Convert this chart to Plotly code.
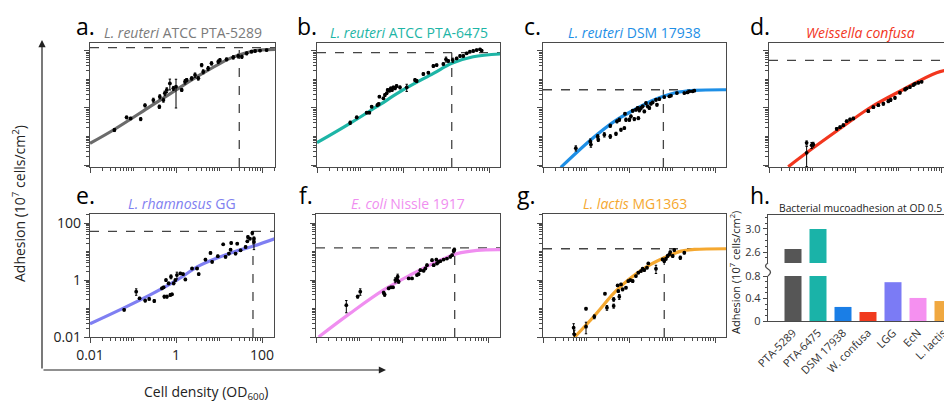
import plotly.graph_objects as go

W, H = 952, 407
FONT = "Open Sans"
OFF = 8  # page body margin offset (px) compensated in placement

# ---------------- data ----------------
a_x = [0.037,0.071,0.088,0.151,0.19,0.297,0.41,0.42,0.51,0.55,0.61,0.72,0.87,1.0,1.36,1.62,1.77,2.31,2.77,3.3,3.95,4.3,5.6,6.7,9.6,10.5,15,21.5,28,34,44,57,69,90,128]
a_y = [0.169,0.47,0.43,0.41,1.24,1.9,1.11,2.5,1.9,3.3,4.3,7.3,4.9,5.6,4.3,8.4,9.6,11,14.4,11,32,18.8,24.6,37,42,48,51,60,67,63,83,95,100,103,108]
a_err = [0.02,0.05,0.04,0.05,0.15,0.3,0.15,0.4,0.3,0.6,0.8,3.0,0.8,4.6,0.5,1.5,1.2,1.5,2.5,1.5,4,3,4,5,6,6,6,8,10,8,10,10,8,8,8]
a_cx = [0.01,0.035,0.248,1,3.6,18,29.7,63,200]
a_cy = [0.0575,0.169,1.11,4.28,14.4,55,72,100,114]

b_x = [0.059,0.084,0.143,0.165,0.187,0.253,0.272,0.282,0.35,0.38,0.417,0.44,0.48,0.52,0.556,0.597,0.652,0.71,0.85,1.22,1.9,2.08,2.97,3.88,5.08,6.07,8.67,10,11.3,14.3,17.7,21.2,25.3,30.3,36,43,51.6,61.8,67.6]
b_y = [0.305,0.47,0.685,0.685,1.11,1.27,1.38,2.5,2.18,2.86,3.27,4.28,4.05,4.9,4.28,5.3,4.9,5.9,5.3,5.3,9.6,8.85,15.6,17.3,29.7,32,35,51,44.6,48,55,66.7,66.7,82.8,94.6,100,108,114,103]
b_err = [0.04,0.05,0.06,0.06,0.1,0.12,0.12,0.2,0.2,0.3,0.3,0.4,0.4,0.5,0.4,0.5,0.5,0.6,0.6,1.5,1,1,1.5,1.5,3,3,3,10,4,8,5,6,6,7,8,8,9,9,9]
b_cx = [0.01,0.0586,0.244,1,5.1,13.6,43,200]
b_cy = [0.0607,0.29,1.11,4.28,16.4,36.9,63,79]

c_x = [0.058,0.126,0.13,0.187,0.193,0.267,0.367,0.367,0.498,0.525,0.595,0.65,0.78,0.806,0.85,1.02,1.11,1.22,1.33,1.45,1.59,1.65,1.74,1.9,2.08,2.27,2.48,2.72,2.97,3.24,3.55,4.24,4.47,5.07,6.6,8.65,9.46,13,19.3,23,25.3,30.2,33]
c_y = [0.039,0.067,0.052,0.101,0.077,0.116,0.239,0.101,0.125,0.34,0.39,0.173,0.198,0.63,0.39,0.39,0.51,0.8,0.41,0.87,1.0,0.44,0.83,1.0,1.14,0.76,1.49,1.14,1.0,1.42,1.57,1.95,1.3,2.06,2.42,2.56,2.7,3.35,3.35,3.53,3.83,3.83,4.05]
c_err = [0.008,0.015,0.01,0.015,0.01,0.02,0.03,0.015,0.015,0.04,0.05,0.02,0.02,0.06,0.05,0.05,0.06,0.08,0.05,0.09,0.1,0.05,0.1,0.1,0.12,0.08,0.15,0.12,0.1,0.15,0.15,0.2,0.13,0.2,0.2,0.2,0.2,0.25,0.25,0.3,0.3,0.3,0.3]
c_cx = [0.026,0.13,0.457,1.59,3.9,11.3,33,200]
c_cy = [0.0083,0.077,0.34,1,1.96,3.36,4.15,4.37]

d_x = [0.075,0.075,0.098,0.107,0.375,0.448,0.535,0.64,0.765,0.914,2.04,2.67,3.49,4.56,5.96,6.76,8.5,11.1,14.6,15.9,19,22.7,24.8,29.7,35.5]
d_y = [0.06,0.0268,0.0498,0.0526,0.186,0.213,0.25,0.346,0.396,0.43,0.776,1.07,1.26,1.41,1.74,1.94,2.28,3.42,4.48,4.85,5.4,6.35,7.07,7.67,8.3]
d_err = [0.01,0.018,0.012,0.01,0.02,0.02,0.025,0.03,0.04,0.04,0.08,0.1,0.12,0.15,0.2,0.25,0.25,0.3,0.5,0.4,0.5,0.5,0.6,0.6,0.6]
d_cx = [0.028,0.075,0.375,2.23,13.3,79,200]
d_cy = [0.0087,0.0268,0.155,1.02,4.47,17.2,24]

e_x = [0.0622,0.1186,0.142,0.192,0.238,0.312,0.471,0.515,0.534,0.585,0.617,0.674,0.738,0.764,0.807,0.882,0.965,1.05,1.26,1.46,1.65,2.36,3.09,3.38,4.84,6.33,6.92,9.4,12.5,14.2,17,18.6,19.2,24.3,26.5,31.8,41.6,45.5,47.1,52.5,59.5,65,65]
e_y = [0.0898,0.392,0.229,0.19,0.217,0.185,0.512,0.555,0.262,1.0,0.262,0.765,0.3,1.31,0.316,0.765,1.0,1.49,1.71,1.62,1.05,2.55,2.55,1.62,5.26,8.98,4.36,6.88,18,6.52,8.5,11.7,20,8.5,19,11.1,14.5,22.9,32.5,28.4,44.8,21.7,28.4]
e_err = [0.008,0.1,0.02,0.02,0.02,0.02,0.05,0.05,0.03,0.1,0.03,0.08,0.03,0.2,0.03,0.08,0.1,0.4,0.15,0.15,0.1,0.2,0.2,0.15,0.5,0.8,0.4,0.6,1.5,0.6,0.8,1,1.5,0.8,1.5,1,1.2,2,3,2.5,6,10,4]
e_cx = [0.01,0.06,0.25,1,3.7,22,61.7,200]
e_cy = [0.029,0.103,0.3,0.95,3.33,9.7,15.4,28.4]

f_x = [0.0507,0.0931,0.107,0.375,0.395,0.49,0.555,0.618,0.7,0.765,0.793,0.836,1.43,1.71,2.23,2.44,2.67,3.19,3.49,3.81,4.99,5.45,6.29,6.52,7.12,7.79,9.31,11.1,13.3,14.6,15.9,16.5]
f_y = [0.131,0.262,0.392,0.361,0.308,0.512,0.555,0.555,1.0,1.05,1.31,0.875,1.14,1.14,1.49,1.62,2.23,2.12,2.55,3.34,4.98,3.34,5.26,3.81,4.36,4.6,5.26,5.7,6.52,7.45,10.5,11.7]
f_err = [0.06,0.03,0.1,0.04,0.04,0.05,0.05,0.05,0.2,0.15,0.3,0.1,0.08,0.08,0.1,0.15,0.2,0.15,0.2,0.3,0.5,0.3,0.5,0.3,0.3,0.3,0.4,0.4,0.5,0.6,1.5,1.5]
f_cx = [0.0115,0.063,0.375,1.56,7.8,19,55.5,200]
f_cy = [0.01,0.0687,0.448,1.5,5.0,8.5,11.1,11.7]

g_x = [0.0516,0.0535,0.1,0.1,0.156,0.276,0.307,0.44,0.44,0.544,0.564,0.595,0.652,0.71,0.85,0.96,1.07,1.22,1.45,1.64,1.9,2.08,2.27,2.62,2.81,4.24,6.05,6.6,7.24,7.9,8.65,9.1,10.4,11.3,15.6,19.3]
g_y = [0.0213,0.0124,0.099,0.023,0.0518,0.332,0.107,0.123,0.21,0.65,0.41,0.26,0.705,0.47,0.54,0.92,1.0,0.92,1.38,1.81,2.07,2.5,2.24,2.71,3.85,2.5,5.3,4.65,5.6,7.0,8.0,9.6,7.0,11.3,6.1,9.1]
g_err = [0.008,0.005,0.01,0.01,0.008,0.03,0.02,0.02,0.03,0.05,0.04,0.05,0.06,0.05,0.05,0.08,0.08,0.1,0.1,0.15,0.15,0.2,0.2,0.2,0.3,0.8,0.5,0.5,0.6,0.7,0.7,0.8,0.7,1,0.8,0.8]
g_cx = [0.053,0.156,0.455,1,2.72,6.6,16.2,33,200]
g_cy = [0.0095,0.0546,0.36,1.06,3.1,6.1,10.4,11.9,12.6]

plateau = [131, 87, 4.36, 46.6, 51, 13.4, 12.6]
sat_od = [29.6, 13.6, 6.3, None, 61.7, 16.8, 6.6]

letters = ["a.", "b.", "c.", "d.", "e.", "f.", "g."]
titles = ["<i>L. reuteri</i> ATCC PTA-5289", "<i>L. reuteri</i> ATCC PTA-6475",
          "<i>L. reuteri</i> DSM 17938", "<i>Weissella confusa</i>",
          "<i>L. rhamnosus</i> GG", "<i>E. coli</i> Nissle 1917", "<i>L. lactis</i> MG1363"]
line_colors = ["#6b6b6b", "#1db5a6", "#1e8fe6", "#f2361e", "#7f7ff2", "#f08ef0", "#f5a830"]
title_colors = ["#7a7a7a", "#1db5a6", "#1e8fe6", "#f2361e", "#8080f0", "#f08ef0", "#f5a830"]

h_labels = ["PTA-5289", "PTA-6475", "DSM 17938", "W. confusa", "LGG", "EcN", "L. lactis"]
h_vals = [2.65, 3.0, 0.25, 0.16, 0.69, 0.41, 0.355]
h_colors = ["#565656", "#1ab3a8", "#1a7ee6", "#f03a1e", "#7b7bf5", "#f590f0", "#f0a840"]

panels = [
    (a_x, a_y, a_err, a_cx, a_cy), (b_x, b_y, b_err, b_cx, b_cy),
    (c_x, c_y, c_err, c_cx, c_cy), (d_x, d_y, d_err, d_cx, d_cy),
    (e_x, e_y, e_err, e_cx, e_cy), (f_x, f_y, f_err, f_cx, f_cy),
    (g_x, g_y, g_err, g_cx, g_cy),
]

# ---------------- layout geometry (screen pixels) ----------------
cols = [(90, 275), (317, 500), (543, 726), (769, 952), (90, 274), (316, 500), (543, 726)]
rows = [(43, 167)] * 4 + [(214, 337)] * 3
yranges = [[-2.07, 2.28]] * 4 + [[-2.0, 2.32]] * 3
# letters: (left x, top y of text box)
letter_pos = [(74, 8), (295, 8), (522, 8), (748, 8), (74, 177), (297, 177), (515, 177)]
title_y = [32] * 4 + [203] * 3

def px_x(v):
    return (v - OFF) / W

def px_y(v):
    return 1 - (v - OFF) / H

fig = go.Figure()
layout = dict(width=W, height=H, margin=dict(l=0, r=0, t=0, b=0, pad=0, autoexpand=False),
              paper_bgcolor="white", plot_bgcolor="white", showlegend=False,
              font=dict(family=FONT, color="#222"), bargap=0.32)
AX = "#4a4a4a"
annotations = []
shapes = []

for i, (px_, py_, pe, cx, cy) in enumerate(panels):
    n = i + 1
    xa = "x" if n == 1 else f"x{n}"
    ya = "y" if n == 1 else f"y{n}"
    l, r = cols[i]
    t, b = rows[i]
    xr = [-2.0, -2.0 + (r - l) / 43.0]
    yr = yranges[i]
    show_lab = (i == 4)
    common = dict(type="log", showline=True, mirror=True, linecolor=AX, linewidth=1.2,
                  ticks="outside", ticklen=5, tickwidth=1.1, tickcolor=AX, dtick=2, tick0=0,
                  showgrid=False, zeroline=False, showticklabels=show_lab, automargin=False,
                  tickfont=dict(size=14, family=FONT, color="#222"),
                  minor=dict(ticks="outside", ticklen=2.5, tickwidth=0.8, tickcolor=AX,
                             dtick="D1", showgrid=False))
    layout["xaxis" if n == 1 else f"xaxis{n}"] = dict(
        common, domain=[px_x(l), min(1.0, px_x(r))], range=xr, anchor=ya)
    layout["yaxis" if n == 1 else f"yaxis{n}"] = dict(
        common, domain=[px_y(b), px_y(t)], range=yr, anchor=xa)

    xmin, xmax = 10 ** xr[0], 10 ** xr[1]
    ymin = 10 ** yr[0]
    dash = dict(color="#444", width=1.3, dash="dash")
    fig.add_trace(go.Scatter(x=[xmin, xmax], y=[plateau[i], plateau[i]], mode="lines",
                             line=dash, xaxis=xa, yaxis=ya, hoverinfo="skip"))
    if sat_od[i] is not None:
        fig.add_trace(go.Scatter(x=[sat_od[i], sat_od[i]], y=[ymin, plateau[i]], mode="lines",
                                 line=dash, xaxis=xa, yaxis=ya, hoverinfo="skip"))
    fig.add_trace(go.Scatter(x=cx, y=cy, mode="lines", line=dict(color=line_colors[i], width=3.2,
                             shape="spline", smoothing=1.0), xaxis=xa, yaxis=ya))
    fig.add_trace(go.Scatter(x=px_, y=py_, mode="markers",
                             marker=dict(color="black", size=3.8),
                             error_y=dict(type="data", array=pe, color="black", thickness=1,
                                          width=1.2),
                             xaxis=xa, yaxis=ya))

    lx, ly = letter_pos[i]
    annotations.append(dict(x=px_x(lx), y=px_y(ly), xref="paper", yref="paper", text=letters[i],
                            showarrow=False, xanchor="left", yanchor="top",
                            font=dict(size=23, color="black", family=FONT)))
    annotations.append(dict(x=px_x((l + r) / 2), y=px_y(title_y[i]), xref="paper", yref="paper",
                            text=titles[i], showarrow=False, xanchor="center", yanchor="middle",
                            font=dict(size=14, color=title_colors[i], family=FONT)))

# ---------------- panel h (broken-axis bar chart) ----------------
hl, hr = 768, 952
bar_lo = (276, 321)
bar_hi = (215, 263)
step = 25.0
xr_h = [-1, -1 + (hr - hl) / step]
layout["xaxis8"] = dict(domain=[px_x(hl), px_x(hr)], range=xr_h, anchor="y8", type="category",
                        showline=True, linecolor=AX, linewidth=1.3, ticks="", tickangle=-45,
                        automargin=False,
                        tickfont=dict(size=11, family=FONT, color="#333"), showgrid=False)
layout["yaxis8"] = dict(domain=[px_y(bar_lo[1]), px_y(bar_lo[0])], range=[0, 0.8], anchor="x8",
                        tickvals=[0, 0.4, 0.8], ticktext=["0", "0.4", "0.8"], showline=True,
                        linecolor=AX, linewidth=1.3, ticks="outside", ticklen=4, tickcolor=AX,
                        minor=dict(ticks="outside", ticklen=2, dtick=0.1, tickcolor=AX),
                        tickfont=dict(size=11, family=FONT, color="#333"), showgrid=False,
                        zeroline=False, automargin=False)
layout["xaxis9"] = dict(domain=[px_x(hl), px_x(hr)], range=xr_h, anchor="y9", type="category",
                        matches="x8", showline=True, linecolor=AX, linewidth=1.3, side="top",
                        ticks="", showticklabels=False, showgrid=False, automargin=False)
layout["yaxis9"] = dict(domain=[px_y(bar_hi[1]), px_y(bar_hi[0])], range=[2.41, 3.24], anchor="x9",
                        tickvals=[2.6, 3.0], ticktext=["2.6", "3.0"], showline=True,
                        linecolor=AX, linewidth=1.3, ticks="outside", ticklen=4, tickcolor=AX,
                        minor=dict(ticks="outside", ticklen=2, dtick=0.1, tickcolor=AX),
                        tickfont=dict(size=11, family=FONT, color="#333"), showgrid=False,
                        zeroline=False, automargin=False)
for xa, ya in (("x8", "y8"), ("x9", "y9")):
    fig.add_trace(go.Bar(x=h_labels, y=h_vals, marker=dict(color=h_colors, line=dict(width=0)),
                         xaxis=xa, yaxis=ya))

# axis-break squiggle
bx = hl
shapes.append(dict(type="path", xref="paper", yref="paper",
                   path=(f"M {px_x(bx)},{px_y(263)} Q {px_x(bx-5)},{px_y(266)} {px_x(bx)},{px_y(269)} "
                         f"Q {px_x(bx+5)},{px_y(272)} {px_x(bx)},{px_y(276)}"),
                   line=dict(color=AX, width=1.3)))

annotations.append(dict(x=px_x(748), y=px_y(177), xref="paper", yref="paper", text="h.",
                        showarrow=False, xanchor="left", yanchor="top",
                        font=dict(size=23, color="black", family=FONT)))
annotations.append(dict(x=px_x(777), y=px_y(208), xref="paper", yref="paper",
                        text="Bacterial mucoadhesion at OD 0.5", showarrow=False,
                        xanchor="left", yanchor="middle", font=dict(size=10.3, color="#222", family=FONT)))
annotations.append(dict(x=px_x(735), y=px_y(273), xref="paper", yref="paper",
                        text="Adhesion (10<sup>7</sup> cells/cm<sup>2</sup>)", showarrow=False,
                        textangle=-90, xanchor="center", yanchor="middle",
                        font=dict(size=11, color="#222", family=FONT)))

# ---------------- global axis arrows and labels ----------------
annotations.append(dict(x=px_x(42), y=px_y(40), xref="paper", yref="paper", text="",
                        showarrow=True, ax=0, ay=330, arrowhead=2, arrowsize=1.2,
                        arrowwidth=1.2, arrowcolor="#222"))
annotations.append(dict(x=px_x(386), y=px_y(370), xref="paper", yref="paper", text="",
                        showarrow=True, ax=-344, ay=0, arrowhead=2, arrowsize=1.2,
                        arrowwidth=1.2, arrowcolor="#222"))
annotations.append(dict(x=px_x(19), y=px_y(204), xref="paper", yref="paper",
                        text="Adhesion (10<sup>7</sup> cells/cm<sup>2</sup>)", showarrow=False,
                        textangle=-90, xanchor="center", yanchor="middle",
                        font=dict(size=14, color="#222", family=FONT)))
annotations.append(dict(x=px_x(206), y=px_y(392), xref="paper", yref="paper",
                        text="Cell density (OD<sub>600</sub>)", showarrow=False,
                        xanchor="center", yanchor="middle",
                        font=dict(size=14, color="#222", family=FONT)))

layout["annotations"] = annotations
layout["shapes"] = shapes
fig.update_layout(**layout)
fig.write_html("out.html")
